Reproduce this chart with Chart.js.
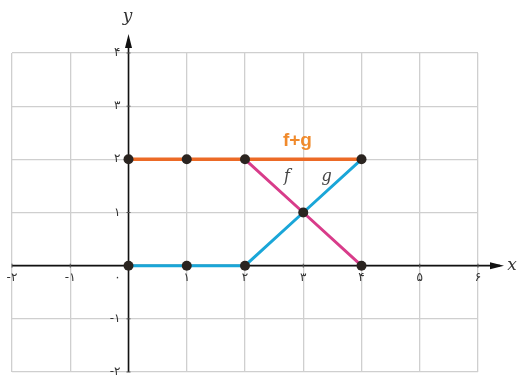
<!DOCTYPE html>
<html>
<head>
<meta charset="utf-8">
<script src="https://cdn.jsdelivr.net/npm/chart.js@4/dist/chart.umd.min.js"></script>
<style>
  html, body { margin: 0; padding: 0; background: #fff; }
  #wrap { width: 521px; height: 377px; }
</style>
</head>
<body>
<div id="wrap"><canvas id="graph"></canvas></div>
<script>
// data
const xTicks = [-2, -1, 0, 1, 2, 3, 4, 5, 6];
const xTickLabels = ['-۲', '-۱', '۰', '۱', '۲', '۳', '۴', '۵', '۶'];
const yTicks = [-2, -1, 1, 2, 3, 4];
const yTickLabels = ['-۲', '-۱', '۱', '۲', '۳', '۴'];

const fX = [2, 3, 4];
const fY = [2, 1, 0];
const gX = [0, 1, 2, 3, 4];
const gY = [0, 0, 0, 1, 2];
const sumX = [0, 1, 2, 4];
const sumY = [2, 2, 2, 2];
const dotX = [0, 1, 2, 4, 0, 1, 2, 3, 4];
const dotY = [2, 2, 2, 2, 0, 0, 0, 1, 0];

const pts = (xs, ys) => xs.map((x, i) => ({ x: x, y: ys[i] }));

// axes with arrows (under the lines), tick labels and names (on top)
const axesPlugin = {
  id: 'axes',
  beforeDatasetsDraw(chart) {
    const c = chart.ctx;
    const sx = chart.scales.x, sy = chart.scales.y;
    const x0 = sx.getPixelForValue(0), y0 = sy.getPixelForValue(0);
    const area = chart.chartArea;
    c.save();
    c.strokeStyle = '#111';
    c.fillStyle = '#111';
    c.lineWidth = 1.6;
    c.beginPath();
    c.moveTo(area.left, y0);
    c.lineTo(area.right + 22, y0);
    c.stroke();
    c.beginPath();
    c.moveTo(area.right + 26, y0);
    c.lineTo(area.right + 12, y0 - 3.5);
    c.lineTo(area.right + 12, y0 + 3.5);
    c.closePath();
    c.fill();
    c.beginPath();
    c.moveTo(x0, area.bottom);
    c.lineTo(x0, area.top - 14);
    c.stroke();
    c.beginPath();
    c.moveTo(x0, area.top - 19);
    c.lineTo(x0 - 3.5, area.top - 5);
    c.lineTo(x0 + 3.5, area.top - 5);
    c.closePath();
    c.fill();

    c.lineWidth = 1;
    c.strokeStyle = '#555';
    xTicks.forEach(v => {
      const px = sx.getPixelForValue(v);
      c.beginPath();
      c.moveTo(px, y0 - 2);
      c.lineTo(px, y0 + 2);
      c.stroke();
    });
    yTicks.forEach(v => {
      const py = sy.getPixelForValue(v);
      c.beginPath();
      c.moveTo(x0 - 2, py);
      c.lineTo(x0 + 2, py);
      c.stroke();
    });
    c.restore();
  },
  afterDraw(chart) {
    const c = chart.ctx;
    const sx = chart.scales.x, sy = chart.scales.y;
    const x0 = sx.getPixelForValue(0), y0 = sy.getPixelForValue(0);
    const area = chart.chartArea;
    c.save();
    c.fillStyle = '#333';
    c.font = '12px "DejaVu Sans"';
    c.textAlign = 'center';
    c.textBaseline = 'top';
    xTicks.forEach((v, i) => {
      const px = sx.getPixelForValue(v);
      const lx = v === 0 ? px - 11 : px;
      c.fillText(xTickLabels[i], lx, y0 + 6);
    });
    c.textAlign = 'right';
    c.textBaseline = 'middle';
    yTicks.forEach((v, i) => {
      c.fillText(yTickLabels[i], x0 - 8, sy.getPixelForValue(v));
    });

    c.fillStyle = '#333';
    c.font = 'italic 17px "DejaVu Serif"';
    c.textAlign = 'center';
    c.fillText('y', x0 - 1, area.top - 36);
    c.fillText('x', area.right + 34, y0);

    c.fillStyle = '#f08a2c';
    c.font = 'bold 19px "Liberation Sans"';
    c.fillText('f+g', sx.getPixelForValue(2.9), sy.getPixelForValue(2.35));
    c.fillStyle = '#444';
    c.font = 'italic 16px "DejaVu Serif"';
    c.fillText('f', sx.getPixelForValue(2.72), sy.getPixelForValue(1.67));
    c.fillText('g', sx.getPixelForValue(3.4), sy.getPixelForValue(1.67));
    c.restore();
  }
};

new Chart(document.getElementById('graph'), {
  type: 'scatter',
  data: {
    datasets: [{
      label: 'points',
      data: pts(dotX, dotY),
      showLine: false,
      pointRadius: 5,
      pointBackgroundColor: '#2a2420',
      pointBorderWidth: 0,
      order: 0
    }, {
      label: 'f+g',
      data: pts(sumX, sumY),
      showLine: true,
      borderColor: '#ec6a26',
      borderWidth: 3.5,
      pointRadius: 0,
      order: 1
    }, {
      label: 'f',
      data: pts(fX, fY),
      showLine: true,
      borderColor: '#d83c8a',
      borderWidth: 3,
      pointRadius: 0,
      order: 2
    }, {
      label: 'g',
      data: pts(gX, gY),
      showLine: true,
      borderColor: '#1aa6d8',
      borderWidth: 3,
      pointRadius: 0,
      order: 3
    }]
  },
  options: {
    responsive: true,
    maintainAspectRatio: false,
    animation: false,
    layout: { padding: { left: 12, right: 43, top: 53, bottom: 2 } },
    plugins: {
      legend: { display: false },
      tooltip: { enabled: false }
    },
    scales: {
      x: {
        type: 'linear',
        min: -2,
        max: 6,
        ticks: { display: false, stepSize: 1 },
        grid: { color: '#cfcfcf', lineWidth: 1.3, drawTicks: false },
        border: { display: false }
      },
      y: {
        type: 'linear',
        min: -2,
        max: 4,
        ticks: { display: false, stepSize: 1 },
        grid: { color: '#cfcfcf', lineWidth: 1.3, drawTicks: false },
        border: { display: false }
      }
    }
  },
  plugins: [axesPlugin]
});
</script>
</body>
</html>
